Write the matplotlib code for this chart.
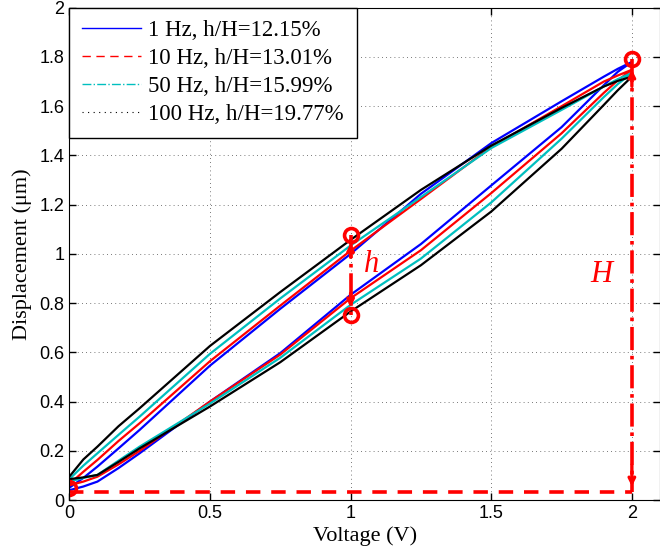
import matplotlib
matplotlib.use("Agg")
import matplotlib.pyplot as plt
from matplotlib.lines import Line2D

# voltage samples
volts = [0, 0.05, 0.1, 0.175, 0.25, 0.5, 0.75, 1.0, 1.25, 1.5, 1.75, 1.9, 1.95, 2.0]

# rising (lower) and falling (upper) branches of each loop, um
blue_up = [0.04, 0.055, 0.075, 0.13, 0.19, 0.40, 0.597, 0.834, 1.04, 1.278, 1.515, 1.685, 1.74, 1.78]
blue_down = [0.05, 0.09, 0.136, 0.21, 0.285, 0.546, 0.777, 1.00, 1.244, 1.45, 1.62, 1.72, 1.752, 1.78]
red_up = [0.06, 0.075, 0.095, 0.145, 0.20, 0.40, 0.591, 0.82, 1.015, 1.247, 1.49, 1.654, 1.705, 1.748]
red_down = [0.065, 0.115, 0.163, 0.24, 0.312, 0.564, 0.79, 1.013, 1.223, 1.435, 1.60, 1.70, 1.725, 1.748]
cyan_up = [0.075, 0.09, 0.102, 0.16, 0.217, 0.392, 0.578, 0.793, 0.981, 1.209, 1.468, 1.637, 1.69, 1.735]
cyan_down = [0.085, 0.14, 0.19, 0.265, 0.339, 0.594, 0.819, 1.034, 1.231, 1.43, 1.585, 1.68, 1.71, 1.735]
black_up = [0.085, 0.092, 0.102, 0.155, 0.21, 0.38, 0.56, 0.766, 0.954, 1.172, 1.427, 1.605, 1.665, 1.72]
black_down = [0.095, 0.165, 0.217, 0.30, 0.373, 0.626, 0.845, 1.057, 1.26, 1.44, 1.593, 1.68, 1.703, 1.72]

labels = ['1 Hz, h/H=12.15%', '10 Hz, h/H=13.01%',
          '50 Hz, h/H=15.99%', '100 Hz, h/H=19.77%']

# marked points and the h / H guides
mark_v = [0, 1, 1, 2]
mark_d = [0.05, 1.075, 0.752, 1.79]
base_d = 0.034

serif = 'Liberation Serif'
sans = 'Liberation Sans'

fig = plt.figure(figsize=(6.6, 5.55), dpi=100)
ax = fig.add_axes([0.105, 0.099, 0.895, 0.887])

loops = [(blue_up, blue_down, 'b'), (red_up, red_down, 'r'),
         (cyan_up, cyan_down, 'c'), (black_up, black_down, 'k')]
for up, down, col in loops:
    ax.plot(volts + volts[::-1], up + down[::-1], color=col, lw=1.6)

# H: dashed baseline and vertical dash-dot line at 2 V
ax.plot([0, 2], [base_d, base_d], color='r', ls=(0, (4, 3)), lw=2.6)
ax.plot([2, 2], [mark_d[3], base_d], color='r', ls='-.', lw=2.6)
ax.annotate('', xy=(2, mark_d[3] - 0.03), xytext=(2, mark_d[3] - 0.12),
            arrowprops=dict(arrowstyle='->', color='r', lw=2.4))
ax.annotate('', xy=(2, base_d + 0.01), xytext=(2, base_d + 0.12),
            arrowprops=dict(arrowstyle='->', color='r', lw=2.4))

# h: vertical dash-dot line at 1 V
ax.plot([1, 1], [mark_d[1], mark_d[2]], color='r', ls='-.', lw=2.6)
ax.annotate('', xy=(1, mark_d[1] - 0.02), xytext=(1, mark_d[1] - 0.1),
            arrowprops=dict(arrowstyle='->', color='r', lw=2.4))
ax.annotate('', xy=(1, mark_d[2] + 0.02), xytext=(1, mark_d[2] + 0.1),
            arrowprops=dict(arrowstyle='->', color='r', lw=2.4))

ax.plot(mark_v, mark_d, 'o', ls='none', mfc='none', mec='r', mew=2.6, ms=10)

ax.text(1.075, 0.955, 'h', color='r', fontsize=22, style='italic',
        family=serif, ha='center', va='center')
ax.text(1.89, 0.915, 'H', color='r', fontsize=22, style='italic',
        family=serif, ha='center', va='center')

ax.set_xlim(0, 2.1)
ax.set_ylim(0, 2)
ax.set_xticks([0, 0.5, 1, 1.5, 2])
ax.set_xticklabels(['0', '0.5', '1', '1.5', '2'], family=sans, fontsize=13)
yt = [0, 0.2, 0.4, 0.6, 0.8, 1, 1.2, 1.4, 1.6, 1.8, 2]
ax.set_yticks(yt)
ax.set_yticklabels(['0', '0.2', '0.4', '0.6', '0.8', '1', '1.2', '1.4',
                    '1.6', '1.8', '2'], family=sans, fontsize=13)
ax.tick_params(direction='in', top=True, right=True, length=5, width=1)
ax.grid(True, color='k', ls=(0, (1, 4)), lw=0.6, alpha=0.7)
ax.set_xlabel('Voltage (V)', family=serif, fontsize=16, labelpad=3)
ax.set_ylabel('Displacement (μm)', family=serif, fontsize=16, labelpad=5)

handles = [Line2D([], [], color='b', lw=1, ls='-'),
           Line2D([], [], color='r', lw=1, ls=(0, (6, 4))),
           Line2D([], [], color='c', lw=1, ls='-.'),
           Line2D([], [], color='k', lw=0.8, ls=(0, (1, 4)))]
leg = ax.legend(handles, labels, loc='upper left', borderaxespad=0,
                fancybox=False, edgecolor='k', framealpha=1,
                prop=dict(family=serif, size=16.5), handlelength=2.6,
                handletextpad=0.3, labelspacing=0.3, borderpad=0.55)
leg.get_frame().set_linewidth(1)

plt.savefig('out.png', dpi=100)
